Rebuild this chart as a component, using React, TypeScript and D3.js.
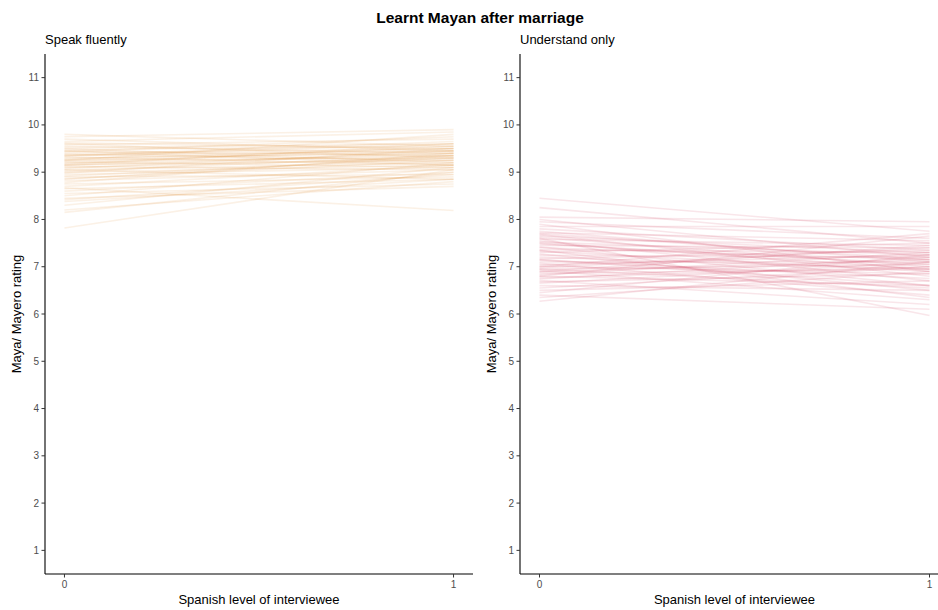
import React from 'react';
import * as d3 from 'd3';

const TITLE = 'Learnt Mayan after marriage';
const PANELS = ['Speak fluently', 'Understand only'];
const X_LABEL = 'Spanish level of interviewee';
const Y_LABEL = 'Maya/ Mayero rating';
const Y_TICKS = [1, 2, 3, 4, 5, 6, 7, 8, 9, 10, 11];
const X_TICKS = [0, 1];

// [rating at Spanish level 0, rating at Spanish level 1]
const fluentLines: [number, number][] = [
  [9.80, 9.55], [9.75, 9.90], [9.70, 9.45], [9.65, 9.85], [9.60, 9.30], [9.58, 9.70],
  [9.55, 9.40], [9.52, 9.60], [9.50, 9.20], [9.48, 9.55], [9.45, 9.35], [9.43, 9.75],
  [9.40, 9.50], [9.38, 9.25], [9.36, 9.45], [9.34, 9.60], [9.32, 9.15], [9.30, 9.40],
  [9.28, 9.50], [9.26, 9.30], [9.24, 9.45], [9.22, 9.10], [9.20, 9.35], [9.18, 9.55],
  [9.16, 9.25], [9.14, 9.40], [9.12, 9.05], [9.10, 9.30], [9.08, 9.45], [9.05, 9.20],
  [9.02, 9.35], [9.00, 9.15], [8.98, 9.50], [8.95, 9.10], [8.92, 9.30], [8.90, 8.95],
  [8.86, 9.25], [8.82, 9.05], [8.78, 9.40], [8.75, 8.90], [8.70, 9.15], [8.65, 8.85],
  [8.60, 9.00], [8.55, 8.75], [8.50, 9.20], [8.45, 8.70], [8.42, 8.95], [8.38, 8.85],
  [8.30, 9.10], [8.20, 8.80], [8.15, 9.00], [8.67, 8.19], [7.82, 9.05], [9.35, 9.65],
  [9.25, 9.80], [9.45, 9.15], [9.15, 9.60], [9.05, 8.85], [8.85, 9.35], [9.62, 9.50],
];

const understandLines: [number, number][] = [
  [8.45, 7.75], [8.25, 7.50], [8.05, 7.95], [8.00, 7.20], [7.95, 7.60], [7.90, 6.90],
  [7.85, 7.85], [7.80, 7.35], [7.75, 7.10], [7.72, 7.55], [7.68, 6.80], [7.65, 7.30],
  [7.62, 7.00], [7.58, 7.45], [7.55, 6.70], [7.52, 7.25], [7.48, 7.05], [7.45, 7.40],
  [7.42, 6.60], [7.40, 7.15], [7.36, 7.30], [7.33, 6.90], [7.30, 7.50], [7.27, 6.50],
  [7.24, 7.20], [7.20, 6.95], [7.17, 7.35], [7.14, 6.75], [7.10, 7.10], [7.07, 6.40],
  [7.04, 7.25], [7.01, 6.85], [6.98, 7.40], [6.95, 7.05], [6.92, 6.30], [6.89, 7.15],
  [6.86, 6.95], [6.83, 7.30], [6.80, 6.60], [6.77, 7.00], [6.74, 7.20], [6.71, 6.20],
  [6.68, 6.85], [6.65, 7.10], [6.60, 6.50], [6.55, 7.00], [6.50, 6.70], [6.45, 7.25],
  [6.40, 6.10], [6.35, 6.90], [6.27, 7.10], [7.60, 5.97], [7.00, 7.70], [6.90, 7.45],
  [7.35, 6.35], [7.70, 7.15], [6.80, 7.65], [7.15, 6.60], [7.50, 6.95], [6.95, 6.55],
];

// right panel runs past the picture edge, as in the reference
const panelData = [
  { title: PANELS[0], lines: fluentLines, color: '#E08A35', left: 45, right: 473 },
  { title: PANELS[1], lines: understandLines, color: '#CC2F55', left: 520, right: 949 },
];

const W = 938;
const H = 610;
const TOP = 54;
const BOTTOM = 574;
const FONT = 'Liberation Sans, Arial, Helvetica, sans-serif';

function Panel({ p }: { p: typeof panelData[number] }) {
  const x = d3.scaleLinear().domain([-0.05, 1.05]).range([p.left, p.right]);
  const y = d3.scaleLinear().domain([0.5, 11.5]).range([BOTTOM, TOP]);
  const line = d3.line<[number, number]>().x(d => x(d[0])).y(d => y(d[1]));
  const cx = (p.left + p.right) / 2;
  const cy = (TOP + BOTTOM) / 2;
  return (
    <g>
      {p.lines.map((l, i) => (
        <path
          key={i}
          d={line([[0, l[0]], [1, l[1]]]) || ''}
          fill="none"
          stroke={p.color}
          strokeOpacity={0.12}
          strokeWidth={1.6}
        />
      ))}
      <line x1={p.left} x2={p.left} y1={TOP} y2={BOTTOM} stroke="#000" strokeWidth={1.1} />
      <line x1={p.left} x2={p.right} y1={BOTTOM} y2={BOTTOM} stroke="#000" strokeWidth={1.1} />
      {Y_TICKS.map(t => (
        <g key={t}>
          <line x1={p.left - 3.5} x2={p.left} y1={y(t)} y2={y(t)} stroke="#333" strokeWidth={1} />
          <text x={p.left - 6} y={y(t)} dy="0.35em" textAnchor="end" fontSize={10} fill="#4d4d4d">
            {t}
          </text>
        </g>
      ))}
      {X_TICKS.map(t => (
        <g key={t}>
          <line x1={x(t)} x2={x(t)} y1={BOTTOM} y2={BOTTOM + 3.5} stroke="#333" strokeWidth={1} />
          <text x={x(t)} y={BOTTOM + 14} textAnchor="middle" fontSize={10} fill="#4d4d4d">
            {t}
          </text>
        </g>
      ))}
      <text x={p.left} y={44} fontSize={13} fill="#000">{p.title}</text>
      <text x={cx} y={604} textAnchor="middle" fontSize={13} fill="#000">{X_LABEL}</text>
      <text
        transform={`translate(${p.left - 24},${cy}) rotate(-90)`}
        textAnchor="middle"
        fontSize={13}
        fill="#000"
      >
        {Y_LABEL}
      </text>
    </g>
  );
}

export default function App() {
  return (
    <svg
      width={W}
      height={H}
      style={{ position: 'absolute', left: 0, top: 0, background: '#fff' }}
      fontFamily={FONT}
    >
      <text x={480} y={23} textAnchor="middle" fontSize={15.5} fontWeight="bold" fill="#000">
        {TITLE}
      </text>
      {panelData.map(p => (
        <Panel key={p.title} p={p} />
      ))}
    </svg>
  );
}
